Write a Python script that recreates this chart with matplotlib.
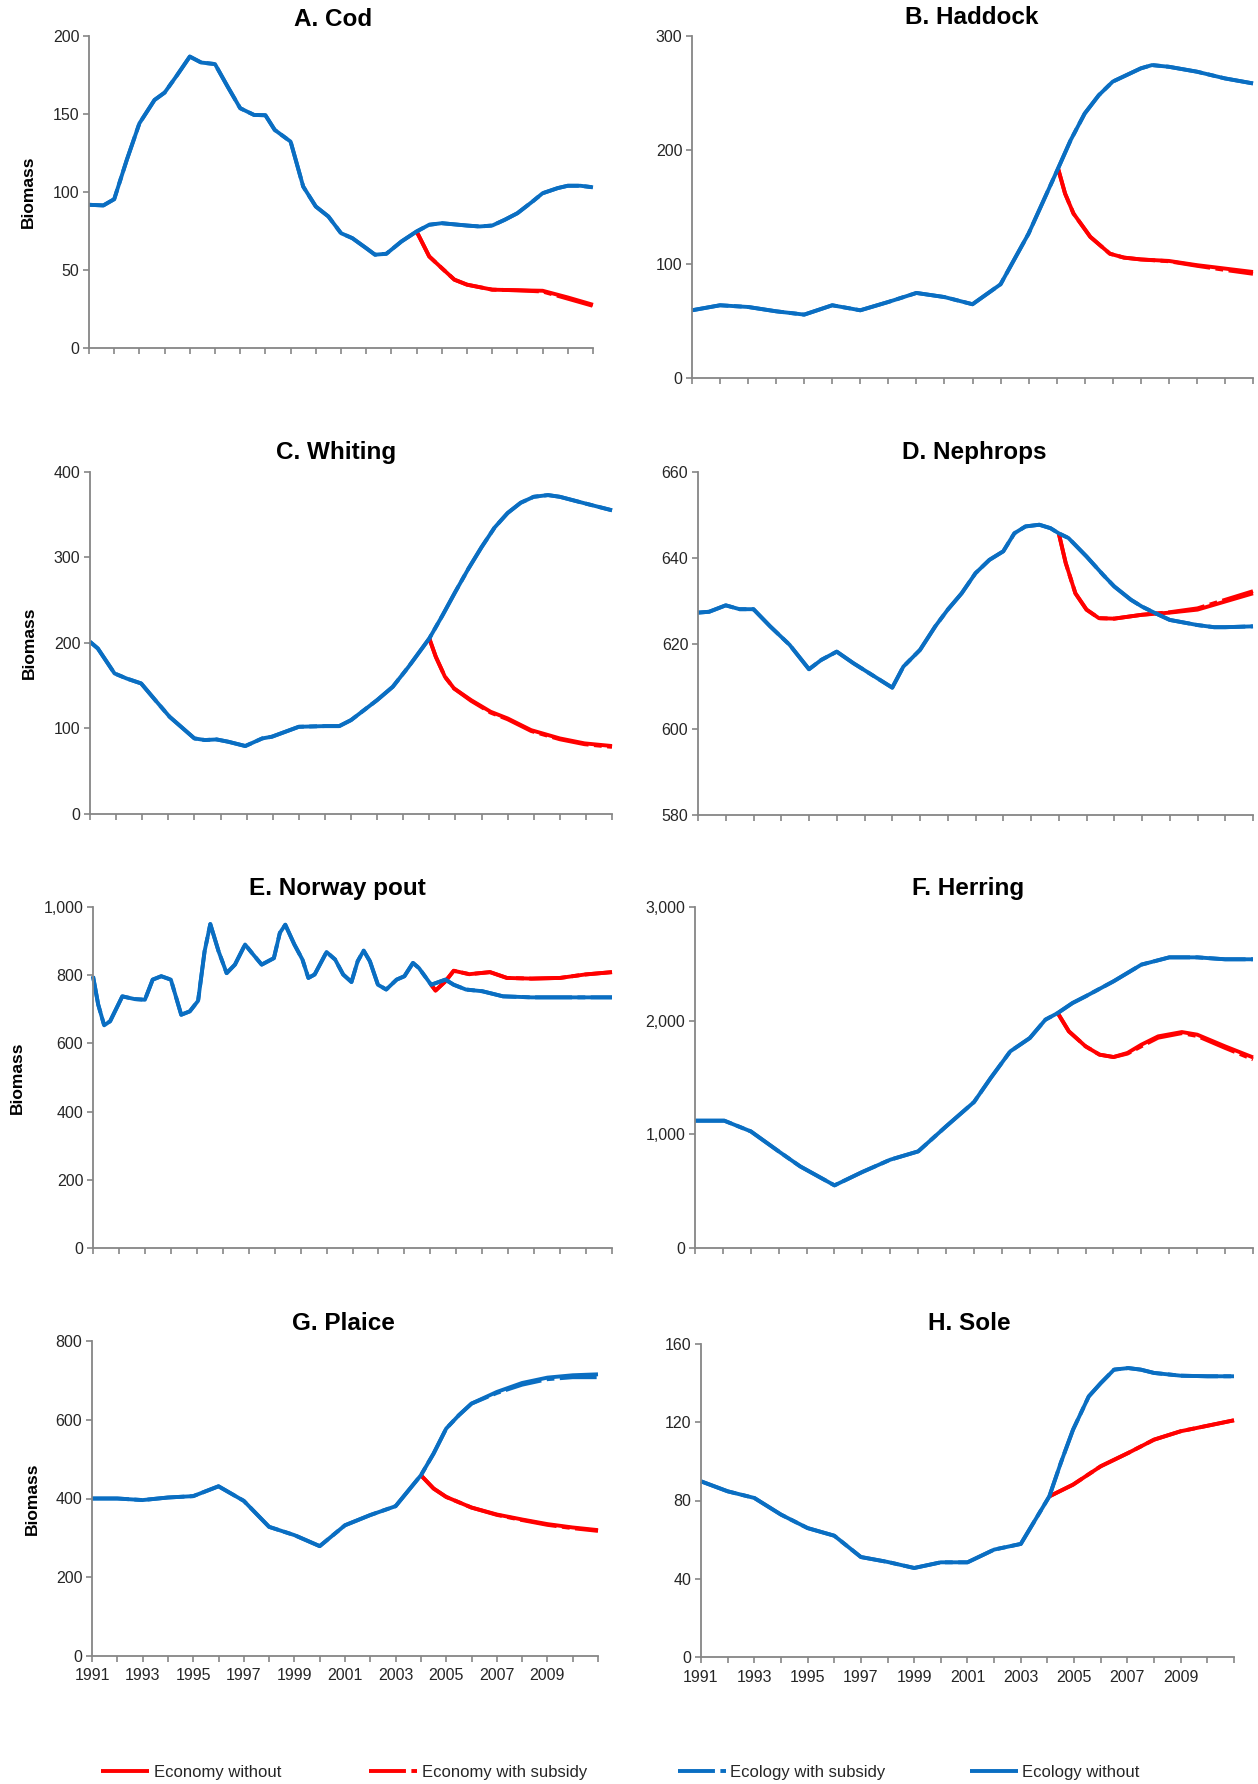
import matplotlib
matplotlib.use('Agg')
import matplotlib.pyplot as plt
from matplotlib.ticker import FuncFormatter
from matplotlib.lines import Line2D

plt.rcParams['font.family'] = ['Liberation Sans', 'DejaVu Sans']

# colours / styles
RED = '#ff0000'
BLUE = '#0a6ec2'
AXCOL = '#868686'
TXT = '#262626'
LW = 2.8
DASH = (9.5, 1.4, 2.0, 1.4)

W, H = 1258, 1784

# ---- data ----
years = list(range(1991, 2012))
year_labels = [str(y) if (y % 2 == 1 and y < 2011) else '' for y in years]
series_names = ['Economy without', 'Economy with subsidy', 'Ecology with subsidy', 'Ecology without']

# A. Cod
cod_x = [1991, 1991.57, 1992, 1992.5, 1993, 1993.6, 1994, 1994.5, 1995, 1995.45,
         1996, 1996.5, 1997, 1997.55, 1998, 1998.37, 1999, 1999.5, 2000, 2000.5,
         2001, 2001.45, 2002, 2002.35, 2002.8, 2003.4, 2004, 2004.5, 2005, 2006,
         2006.5, 2007, 2007.5, 2008, 2008.6, 2009, 2009.6, 2010, 2010.5, 2011]
cod_ecol = [91.8, 91.4, 95.4, 120.6, 144, 159, 163.7, 175, 186.8, 183,
            182, 167.6, 153.7, 149.4, 149.2, 139.8, 132.3, 103.5, 90.7, 84.3,
            73.6, 70.4, 64, 59.8, 60.4, 68.3, 74.7, 79, 80, 78.5,
            77.9, 78.5, 82.2, 86.4, 93.9, 99.2, 102.5, 104, 104, 103]
cod_ecol_sub = cod_ecol
cod_econ_x = [2004, 2004.5, 2005, 2005.5, 2006, 2007, 2008, 2009, 2010, 2011]
cod_econ = [74.7, 58.7, 51.2, 43.8, 40.6, 37.4, 37, 36.7, 32.4, 27.7]
cod_econ_sub = [74.7, 58.7, 51.2, 43.8, 40.6, 37.4, 37, 36.2, 31.6, 27.0]

# B. Haddock
had_x = [1991, 1992, 1993, 1994, 1995, 1996, 1997, 1998, 1999, 2000,
         2001, 2002, 2003, 2004.05, 2004.5, 2005, 2005.5, 2006, 2007, 2007.4,
         2008, 2009, 2010, 2011]
had_ecol = [59.4, 63.8, 62.3, 58.5, 55.6, 63.8, 59.4, 66.7, 74.6, 71,
            64.7, 82.2, 126.7, 183.8, 208.7, 232, 248, 260, 271.6, 274.5,
            273, 268.7, 262.8, 258.4]
had_ecol_sub = had_ecol
had_econ_x = [2004.05, 2004.3, 2004.6, 2005.2, 2005.9, 2006.4, 2007, 2008, 2009, 2010, 2011]
had_econ = [183.8, 161.8, 144.3, 123.8, 109, 105.6, 104, 102.7, 99, 96, 93]
had_econ_sub = [183.8, 161.8, 144.3, 123.8, 109, 105.6, 104, 102.4, 98.4, 94.8, 91.4]

# C. Whiting
whi_x = [1991, 1991.3, 1991.94, 1992.4, 1992.96, 1993.5, 1994.05, 1995, 1995.4, 1995.85,
         1996.3, 1996.95, 1997.6, 1997.97, 1999, 2000, 2000.55, 2001, 2001.5, 2002,
         2002.6, 2003.2, 2004, 2004.5, 2005, 2005.5, 2006, 2006.5, 2007, 2007.5,
         2008, 2008.55, 2009, 2010, 2011]
whi_ecol = [201.4, 193.6, 164.4, 158.5, 152.7, 133.2, 113.7, 88.4, 86.5, 87.2,
            84.5, 79.5, 88.4, 90.4, 102, 102.8, 102.8, 109.8, 121.5, 133.2,
            148.8, 172, 205.3, 232, 260, 287, 312, 335, 352, 364,
            371, 373, 371, 363, 355.2]
whi_ecol_sub = whi_ecol
whi_econ_x = [2004, 2004.25, 2004.6, 2004.95, 2005.6, 2006.35, 2007, 2007.9, 2009, 2009.95, 2011]
whi_econ = [205.3, 183.8, 160.5, 146.8, 133.2, 119.6, 111.8, 98.1, 88.4, 82.6, 79.5]
whi_econ_sub = [205.3, 183.8, 160.5, 146.8, 132.4, 118.6, 110.8, 97.1, 87.4, 81.6, 78.5]

# D. Nephrops
nep_x = [1991, 1991.4, 1992, 1992.5, 1993, 1993.6, 1994.3, 1995, 1995.45, 1996,
         1996.6, 1998, 1998.4, 1999, 1999.55, 2000, 2000.5, 2001, 2001.5, 2002,
         2002.4, 2002.8, 2003.3, 2003.7, 2004, 2004.35, 2005, 2005.6, 2006, 2006.6,
         2007, 2007.6, 2008, 2009, 2009.6, 2010, 2011]
nep_ecol = [627.2, 627.4, 628.9, 628, 628, 624, 619.7, 614, 616.2, 618.1,
            615.4, 609.7, 614.6, 618.5, 624, 627.9, 631.7, 636.4, 639.5, 641.5,
            645.7, 647.3, 647.7, 646.9, 645.7, 644.6, 640.3, 636, 633.3, 630.2,
            628.6, 626.7, 625.5, 624.3, 623.8, 623.8, 624]
nep_ecol_sub = nep_ecol
nep_econ_x = [2004, 2004.25, 2004.6, 2005, 2005.45, 2006, 2007, 2008, 2009, 2010, 2011]
nep_econ = [645.7, 638.8, 631.7, 627.9, 625.9, 625.8, 626.7, 627.2, 627.9, 629.8, 631.7]
nep_econ_sub = [645.7, 638.8, 631.7, 627.9, 625.9, 625.8, 626.7, 627.3, 628.2, 630.2, 632.2]

# E. Norway pout
pout_x = [1991, 1991.2, 1991.43, 1991.66, 1992.13, 1992.6, 1993, 1993.3, 1993.63, 1994,
          1994.4, 1994.73, 1995.05, 1995.3, 1995.52, 1995.84, 1996.15, 1996.47, 1996.86, 1997.18,
          1997.5, 1997.97, 1998.2, 1998.41, 1998.76, 1999.07, 1999.3, 1999.54, 2000, 2000.33,
          2000.64, 2000.96, 2001.2, 2001.43, 2001.67, 2001.98, 2002.3, 2002.7, 2003, 2003.33,
          2003.56, 2004.03, 2004.58, 2004.9, 2005.37, 2006, 2006.8, 2007.9, 2009.47, 2011]
pout_ecol = [797, 714, 653, 665, 738, 730, 728, 787, 797, 787,
             684, 694, 725, 870, 950, 870, 806, 831, 890, 860,
             831, 850, 924, 948, 890, 846, 792, 802, 868, 846,
             802, 780, 841, 872, 841, 772, 758, 787, 797, 836,
             821, 772, 787, 772, 758, 753, 738, 735, 735, 735]
pout_ecol_sub = pout_ecol
pout_econ_x = [2004.03, 2004.2, 2004.58, 2004.9, 2005.5, 2006.3, 2006.95, 2007.9, 2009, 2009.95, 2011]
pout_econ = [772, 755, 782, 813, 803, 809, 792, 790, 792, 802, 809]
pout_econ_sub = pout_econ

# F. Herring
her_x = [1991, 1992.05, 1993, 1994, 1994.77, 1996, 1997, 1998, 1999, 2000,
         2001, 2001.6, 2002.3, 2003, 2003.56, 2004, 2004.53, 2005, 2006, 2007,
         2008, 2009, 2010, 2011]
her_ecol = [1120, 1120, 1026, 850, 718, 551, 669, 777, 850, 1070,
            1284, 1496, 1730, 1847, 2009, 2067, 2155, 2214, 2346, 2493,
            2557, 2557, 2540, 2540]
her_ecol_sub = her_ecol
her_econ_x = [2004, 2004.4, 2005, 2005.5, 2006, 2006.5, 2007, 2007.6, 2008.45, 2009, 2010, 2011]
her_econ = [2067, 1906, 1774, 1701, 1680, 1716, 1789, 1862, 1900, 1877, 1774, 1677]
her_econ_sub = [2067, 1906, 1774, 1701, 1680, 1710, 1775, 1850, 1890, 1865, 1760, 1660]

# G. Plaice
pla_x = [1991, 1992, 1993, 1994, 1995, 1996, 1997, 1998, 1999, 2000,
         2001, 2002, 2003, 2004, 2004.5, 2005, 2005.5, 2006, 2007, 2008,
         2009, 2010, 2011]
pla_ecol = [400, 400, 396, 402.5, 406, 431, 394, 328, 307, 279,
            332, 358, 380.5, 459, 514, 577.6, 611.5, 641, 670.6, 693.4,
            707, 713, 715.4]
pla_ecol_sub = [400, 400, 396, 402.5, 406, 431, 394, 328, 307, 279,
                332, 358, 380.5, 459, 514, 577.6, 611.5, 641, 668, 689,
                703, 708, 708]
pla_econ_x = [2004, 2004.5, 2005, 2006, 2007, 2008, 2009, 2010, 2011]
pla_econ = [459, 425.4, 404, 377, 359.4, 346.7, 335, 326.4, 319.7]
pla_econ_sub = [459, 425.4, 404, 377, 358.4, 345.2, 333, 324.6, 317.7]

# H. Sole
sol_x = [1991, 1992, 1993, 1994, 1995, 1996, 1997, 1998, 1999, 2000,
         2001, 2002, 2003, 2004.07, 2004.5, 2004.96, 2005.55, 2006, 2006.5, 2007.03,
         2007.5, 2008, 2009, 2010, 2011]
sol_ecol = [89.8, 84.7, 81.3, 72.8, 65.9, 62, 51.1, 48.6, 45.5, 48.4,
            48.4, 54.9, 57.8, 82.1, 99.2, 116.2, 133.2, 140, 146.9, 147.7,
            146.9, 145.2, 143.8, 143.5, 143.5]
sol_ecol_sub = sol_ecol
sol_econ_x = [2004.07, 2004.96, 2006, 2007.03, 2008, 2009, 2010, 2011]
sol_econ = [82.1, 88.1, 97.5, 104.3, 111.1, 115.4, 118.2, 121]
sol_econ_sub = sol_econ


fig = plt.figure(figsize=(W / 100, H / 100), dpi=100)


def px_rect(l, r, t, b):
    return [l / W, 1 - b / H, (r - l) / W, (b - t) / H]


def panel(rect, title, tx, ty, x, ecol, ecol_sub, ex, econ, econ_sub,
          ylim, ystep, ylab_x=None, show_years=False, comma=False):
    ax = fig.add_axes(px_rect(*rect))
    ax.plot(ex, econ, color=RED, lw=LW, solid_capstyle='butt', clip_on=False)
    ax.plot(ex, econ_sub, color=RED, lw=LW, dashes=DASH, clip_on=False)
    ax.plot(x, ecol_sub, color=BLUE, lw=LW, dashes=DASH, clip_on=False)
    ax.plot(x, ecol, color=BLUE, lw=LW, solid_capstyle='butt', clip_on=False)
    ax.set_xlim(1991, 2011)
    ax.set_ylim(*ylim)
    ax.set_yticks(range(ylim[0], ylim[1] + 1, ystep))
    if comma:
        ax.yaxis.set_major_formatter(FuncFormatter(lambda v, p: f'{int(v):,}'))
    ax.set_xticks(years)
    ax.set_xticklabels(year_labels if show_years else [''] * len(years))
    for s in ['top', 'right']:
        ax.spines[s].set_visible(False)
    for s in ['left', 'bottom']:
        ax.spines[s].set_color(AXCOL)
        ax.spines[s].set_linewidth(1.3)
    ax.tick_params(axis='both', colors=AXCOL, labelcolor=TXT, labelsize=11.5,
                   length=4, width=1.2, direction='out')
    ax.tick_params(axis='y', pad=3)
    ax.tick_params(axis='x', pad=5)
    fig.text(tx / W, 1 - ty / H, title, ha='center', va='center',
             fontsize=17.5, fontweight='bold', color='black')
    if ylab_x is not None:
        fig.text(ylab_x / W, 1 - (rect[2] + rect[3]) / 2 / H, 'Biomass', rotation=90,
                 ha='center', va='center', fontsize=12.5, fontweight='bold', color='black')
    return ax


panel((89, 593, 36, 348), 'A. Cod', 333, 20, cod_x, cod_ecol, cod_ecol_sub,
      cod_econ_x, cod_econ, cod_econ_sub, (0, 200), 50, ylab_x=28)
panel((692, 1253, 36, 378), 'B. Haddock', 972, 17, had_x, had_ecol, had_ecol_sub,
      had_econ_x, had_econ, had_econ_sub, (0, 300), 100)
panel((90, 612, 472, 814), 'C. Whiting', 336, 453, whi_x, whi_ecol, whi_ecol_sub,
      whi_econ_x, whi_econ, whi_econ_sub, (0, 400), 100, ylab_x=29)
panel((698, 1253, 472, 815), 'D. Nephrops', 974, 453, nep_x, nep_ecol, nep_ecol_sub,
      nep_econ_x, nep_econ, nep_econ_sub, (580, 660), 20)
panel((93, 612, 907, 1248), 'E. Norway pout', 337, 888, pout_x, pout_ecol, pout_ecol_sub,
      pout_econ_x, pout_econ, pout_econ_sub, (0, 1000), 200, ylab_x=17, comma=True)
panel((695, 1253, 907, 1248), 'F. Herring', 968, 888, her_x, her_ecol, her_ecol_sub,
      her_econ_x, her_econ, her_econ_sub, (0, 3000), 1000, comma=True)
panel((92, 598, 1341, 1656), 'G. Plaice', 343, 1323, pla_x, pla_ecol, pla_ecol_sub,
      pla_econ_x, pla_econ, pla_econ_sub, (0, 800), 200, ylab_x=32, show_years=True)
panel((701, 1234, 1344, 1657), 'H. Sole', 969, 1323, sol_x, sol_ecol, sol_ecol_sub,
      sol_econ_x, sol_econ, sol_econ_sub, (0, 160), 40, show_years=True)

# legend along the bottom, one entry per legend so each sits where the original has it
handles = [
    Line2D([], [], color=RED, lw=LW, solid_capstyle='butt'),
    Line2D([], [], color=RED, lw=LW, dashes=DASH),
    Line2D([], [], color=BLUE, lw=LW, dashes=DASH),
    Line2D([], [], color=BLUE, lw=LW, solid_capstyle='butt'),
]
leg_x = [101, 369, 678, 970]
for h, name, lx in zip(handles, series_names, leg_x):
    leg = fig.legend([h], [name], loc='center left', bbox_to_anchor=(lx / W, 1 - 1772 / H),
                     frameon=False, fontsize=12, handlelength=2.9, handletextpad=0.25,
                     borderpad=0, borderaxespad=0, labelcolor=TXT)

fig.savefig('out.png', dpi=100)
